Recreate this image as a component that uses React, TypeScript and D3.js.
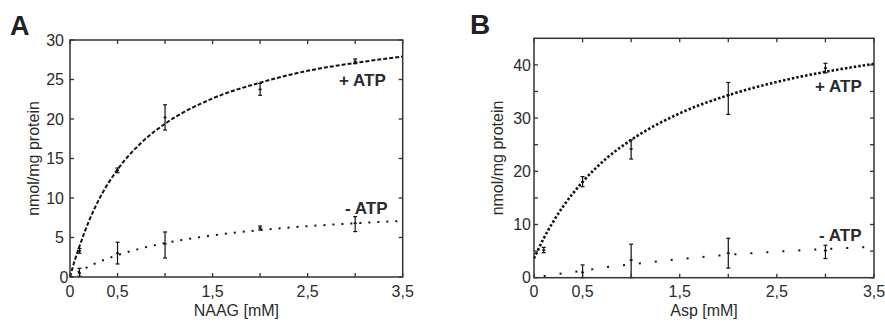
import React from "react";
import * as d3 from "d3";

// ---------- data ----------
const xTickValues = [0, 0.5, 1, 1.5, 2, 2.5, 3, 3.5];
const xLabelValues = [0, 0.5, 1.5, 2.5, 3.5];
const xLabelTexts = ["0", "0,5", "1,5", "2,5", "3,5"];

const yTicksA = [0, 5, 10, 15, 20, 25, 30];
const yLabelsA = [0, 5, 10, 15, 20, 25, 30];
const yTicksB = [0, 5, 10, 15, 20, 25, 30, 35, 40];
const yLabelsB = [0, 10, 20, 30, 40];

// measured points [x, mean, low, high]
const ptsAplus: [number, number, number, number][] = [
  [0.1, 3.3, 3.0, 3.6],
  [0.5, 13.5, 13.2, 13.8],
  [1, 20.2, 18.6, 21.8],
  [2, 23.75, 23.0, 24.5],
  [3, 27.3, 27.0, 27.6],
];
const ptsAminus: [number, number, number, number][] = [
  [0.1, 0.5, 0.1, 1.1],
  [0.5, 3.0, 1.65, 4.4],
  [1, 4.2, 2.4, 5.7],
  [2, 6.2, 5.95, 6.45],
  [3, 6.8, 5.75, 7.65],
];
const ptsBplus: [number, number, number, number][] = [
  [0.1, 5.2, 4.7, 5.7],
  [0.5, 18.0, 17.1, 19.0],
  [1, 24.2, 22.3, 25.9],
  [2, 34.3, 30.7, 36.7],
  [3, 39.4, 38.5, 40.3],
];
const ptsBminus: [number, number, number, number][] = [
  [0.5, 1.0, 0, 2.4],
  [1, 3.3, 0, 6.3],
  [2, 4.6, 1.8, 7.4],
  [3, 5.1, 3.6, 6.1],
];

// fitted curves
const fitX = [0, 0.05, 0.1, 0.2, 0.3, 0.5, 0.75, 1, 1.5, 2, 2.5, 3, 3.5];
const fitAplus = [0, 2.1, 3.9, 7.1, 9.7, 13.6, 17.0, 19.4, 22.6, 24.6, 26.1, 27.1, 27.9];
const fitXAminus = [0, 0.1, 0.25, 0.5, 0.75, 1, 1.5, 2, 2.5, 3, 3.5];
const fitAminus = [0, 0.72, 1.62, 2.77, 3.63, 4.3, 5.27, 5.94, 6.43, 6.8, 7.1];
const fitXBplus = [0, 0.1, 0.2, 0.3, 0.5, 0.75, 1, 1.5, 2, 2.5, 3, 3.5];
const fitBplus = [3.6, 7.4, 10.6, 13.4, 18.0, 22.5, 25.9, 30.9, 34.3, 36.8, 38.7, 40.2];
const fitXBminus = [0.1, 0.25, 0.5, 0.75, 1, 1.5, 2, 2.5, 3, 3.5];
const fitBminus = [0.3, 0.7, 1.3, 2.0, 2.5, 3.5, 4.3, 4.9, 5.4, 5.8];

const FONT = "'Liberation Sans', Arial, Helvetica, sans-serif";
const TXT = "#2b2b2b";
const INK = "#111";

type Series = {
  fx: number[];
  fy: number[];
  pts: [number, number, number, number][];
  dash: string;
  width: number;
  label: string;
  lx: number;
  ly: number;
};

function Panel(props: {
  letter: string;
  letterX: number;
  letterY: number;
  letterSize: number;
  left: number;
  right: number;
  top: number;
  bottom: number;
  yMax: number;
  yTicks: number[];
  yLabels: number[];
  yLabelGap: number;
  zeroGap: number;
  xTitle: string;
  yTitleX: number;
  series: Series[];
}) {
  const { left, right, top, bottom } = props;
  const x = d3.scaleLinear().domain([0, 3.5]).range([left, right]);
  const y = d3.scaleLinear().domain([0, props.yMax]).range([bottom, top]);
  const line = d3
    .line<[number, number]>()
    .x((d) => x(d[0]))
    .y((d) => y(d[1]))
    .curve(d3.curveMonotoneX);
  const tl = 4;
  return (
    <g>
      <text
        x={props.letterX}
        y={props.letterY}
        fontFamily={FONT}
        fontWeight="bold"
        fontSize={props.letterSize}
        fill="#222"
      >
        {props.letter}
      </text>
      {/* curves */}
      {props.series.map((s, i) => (
        <path
          key={"c" + i}
          d={line(s.fx.map((v, j) => [v, s.fy[j]] as [number, number])) || ""}
          fill="none"
          stroke={INK}
          strokeWidth={s.width}
          strokeDasharray={s.dash}
        />
      ))}
      {/* error bars */}
      {props.series.map((s, i) =>
        s.pts.map((p, j) => (
          <g key={"e" + i + "_" + j} stroke={INK} strokeWidth={1.2}>
            <line x1={x(p[0])} x2={x(p[0])} y1={y(p[2])} y2={y(p[3])} />
            <line x1={x(p[0]) - 2} x2={x(p[0]) + 2} y1={y(p[2])} y2={y(p[2])} />
            <line x1={x(p[0]) - 2} x2={x(p[0]) + 2} y1={y(p[3])} y2={y(p[3])} />
            <line x1={x(p[0]) - 1.5} x2={x(p[0]) + 1.5} y1={y(p[1])} y2={y(p[1])} strokeWidth={1.6} />
          </g>
        ))
      )}
      {/* labels */}
      {props.series.map((s, i) => (
        <text
          key={"l" + i}
          x={s.lx}
          y={s.ly}
          fontFamily={FONT}
          fontWeight="bold"
          fontSize={17}
          fill={TXT}
        >
          {s.label}
        </text>
      ))}
      {/* frame */}
      <rect
        x={left}
        y={top}
        width={right - left}
        height={bottom - top}
        fill="none"
        stroke="#333"
        strokeWidth={1.5}
      />
      {/* x ticks */}
      {xTickValues.map((v) => (
        <g key={"xt" + v} stroke="#333" strokeWidth={1.3}>
          <line x1={x(v)} x2={x(v)} y1={bottom} y2={bottom - tl} />
          <line x1={x(v)} x2={x(v)} y1={top} y2={top + tl} />
        </g>
      ))}
      {xLabelValues.map((v, i) => (
        <text
          key={"xl" + v}
          x={x(v)}
          y={bottom + 19.5}
          textAnchor="middle"
          fontFamily={FONT}
          fontSize={16}
          fill={TXT}
        >
          {xLabelTexts[i]}
        </text>
      ))}
      {/* y ticks */}
      {props.yTicks.map((v) => (
        <g key={"yt" + v} stroke="#333" strokeWidth={1.3}>
          <line x1={left} x2={left + tl} y1={y(v)} y2={y(v)} />
          <line x1={right} x2={right - tl} y1={y(v)} y2={y(v)} />
        </g>
      ))}
      {props.yLabels.map((v) => (
        <text
          key={"yl" + v}
          x={left - (v === 0 ? props.zeroGap : props.yLabelGap)}
          y={y(v) + 5.7}
          textAnchor="end"
          fontFamily={FONT}
          fontSize={16}
          fill={TXT}
        >
          {String(v)}
        </text>
      ))}
      {/* titles */}
      <text
        x={(left + right) / 2}
        y={bottom + 38.5}
        textAnchor="middle"
        fontFamily={FONT}
        fontSize={16}
        fill={TXT}
      >
        {props.xTitle}
      </text>
      <text
        transform={`translate(${props.yTitleX},${(top + bottom) / 2}) rotate(-90)`}
        textAnchor="middle"
        fontFamily={FONT}
        fontSize={16}
        fill={TXT}
      >
        nmol/mg protein
      </text>
    </g>
  );
}

export default function App() {
  return (
    <svg
      width={885}
      height={323}
      style={{ position: "absolute", left: 0, top: 0, background: "#fff" }}
    >
      <rect width={885} height={323} fill="#fff" />
      <Panel
        letter="A"
        letterX={10}
        letterY={34.5}
        letterSize={27}
        left={70}
        right={402.7}
        top={40}
        bottom={277}
        yMax={30}
        yTicks={yTicksA}
        yLabels={yLabelsA}
        yLabelGap={6}
        zeroGap={1.5}
        xTitle="NAAG [mM]"
        yTitleX={39}
        series={[
          { fx: fitX, fy: fitAplus, pts: ptsAplus, dash: "4 2", width: 2, label: "+ ATP", lx: 339, ly: 86 },
          { fx: fitXAminus, fy: fitAminus, pts: ptsAminus, dash: "2 7", width: 2, label: "- ATP", lx: 345, ly: 214 },
        ]}
      />
      <Panel
        letter="B"
        letterX={470}
        letterY={33.5}
        letterSize={28}
        left={534}
        right={874}
        top={38.3}
        bottom={277.7}
        yMax={45}
        yTicks={yTicksB}
        yLabels={yLabelsB}
        yLabelGap={3}
        zeroGap={3}
        xTitle="Asp [mM]"
        yTitleX={503}
        series={[
          { fx: fitXBplus, fy: fitBplus, pts: ptsBplus, dash: "2.5 2", width: 2.6, label: "+ ATP", lx: 815, ly: 92 },
          { fx: fitXBminus, fy: fitBminus, pts: ptsBminus, dash: "2 14", width: 2, label: "- ATP", lx: 819, ly: 241 },
        ]}
      />
    </svg>
  );
}
